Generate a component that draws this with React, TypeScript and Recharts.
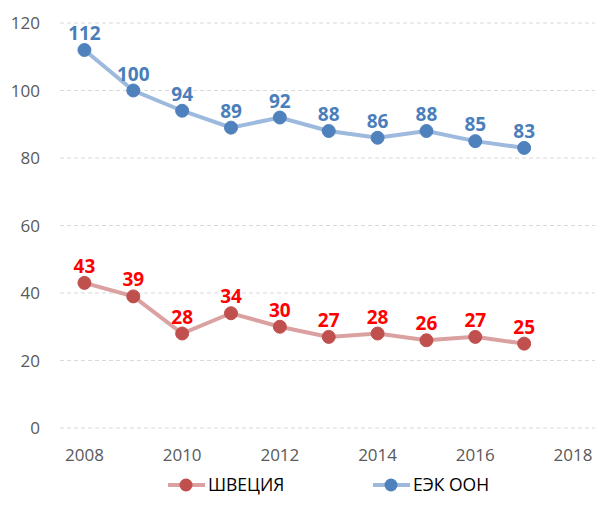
import { LineChart, Line, XAxis, YAxis, CartesianGrid, LabelList, Legend } from 'recharts';

const years = [2008, 2009, 2010, 2011, 2012, 2013, 2014, 2015, 2016, 2017];
const sweden = [43, 39, 28, 34, 30, 27, 28, 26, 27, 25];
const unece = [112, 100, 94, 89, 92, 88, 86, 88, 85, 83];
const xTicks = [2008, 2010, 2012, 2014, 2016, 2018];
const yTicks = [0, 20, 40, 60, 80, 100, 120];

const data = years.map((year, i) => ({ year, sweden: sweden[i], unece: unece[i] }));

const FONT = '"Open Sans", "Liberation Sans", sans-serif';

const legendItems = [
  { name: 'ШВЕЦИЯ', line: '#DBA1A0', dot: '#C0504D', x: 168 },
  { name: 'ЕЭК ООН', line: '#9DB9DD', dot: '#4F81BD', x: 373 },
];

// легенда рисуется вручную: линия с маркером и подпись
const CustomLegend = () => (
  <svg width={595} height={40} style={{ display: 'block' }}>
    {legendItems.map((it) => (
      <g key={it.name}>
        <line x1={it.x} x2={it.x + 37} y1={17} y2={17} stroke={it.line} strokeWidth={4} />
        <circle cx={it.x + 18} cy={17} r={6.5} fill={it.dot} />
        <text x={it.x + 40} y={23} fontSize={17.5} fill="#000" fontFamily={FONT}>
          {it.name}
        </text>
      </g>
    ))}
  </svg>
);

export default function App() {
  return (
    <div style={{ position: 'absolute', left: 0, top: 0, background: '#fff' }}>
      <style>{'body{margin:0}'}</style>
      <LineChart
        width={595}
        height={508}
        data={data}
        margin={{ top: 23, right: 0, left: 0, bottom: 0 }}
      >
        <CartesianGrid vertical={false} stroke="#D9D9D9" strokeDasharray="4 3" />
        <XAxis
          dataKey="year"
          type="number"
          domain={[2007.5, 2018.45]}
          ticks={xTicks}
          axisLine={false}
          tickLine={false}
          tickSize={8}
          tickMargin={13}
          height={40}
          tick={{ fill: '#595959', fontSize: 17, fontFamily: FONT }}
        />
        <YAxis
          domain={[0, 120]}
          ticks={yTicks}
          axisLine={false}
          tickLine={false}
          tickSize={10}
          tickMargin={10}
          width={60}
          tick={{ fill: '#595959', fontSize: 17, fontFamily: FONT }}
        />
        <Legend verticalAlign="bottom" height={40} content={<CustomLegend />} />
        <Line
          dataKey="sweden"
          stroke="#DBA1A0"
          strokeWidth={4}
          dot={{ r: 6.5, fill: '#C0504D', stroke: '#C0504D', strokeWidth: 1 }}
          isAnimationActive={false}
        >
          <LabelList
            dataKey="sweden"
            position="top"
            offset={10}
            fill="#FF0000"
            fontSize={19}
            fontWeight="bold"
            fontFamily={FONT}
          />
        </Line>
        <Line
          dataKey="unece"
          stroke="#9DB9DD"
          strokeWidth={4}
          dot={{ r: 6.5, fill: '#4F81BD', stroke: '#4F81BD', strokeWidth: 1 }}
          isAnimationActive={false}
        >
          <LabelList
            dataKey="unece"
            position="top"
            offset={10}
            fill="#4A7EBB"
            fontSize={19}
            fontWeight="bold"
            fontFamily={FONT}
          />
        </Line>
      </LineChart>
    </div>
  );
}
